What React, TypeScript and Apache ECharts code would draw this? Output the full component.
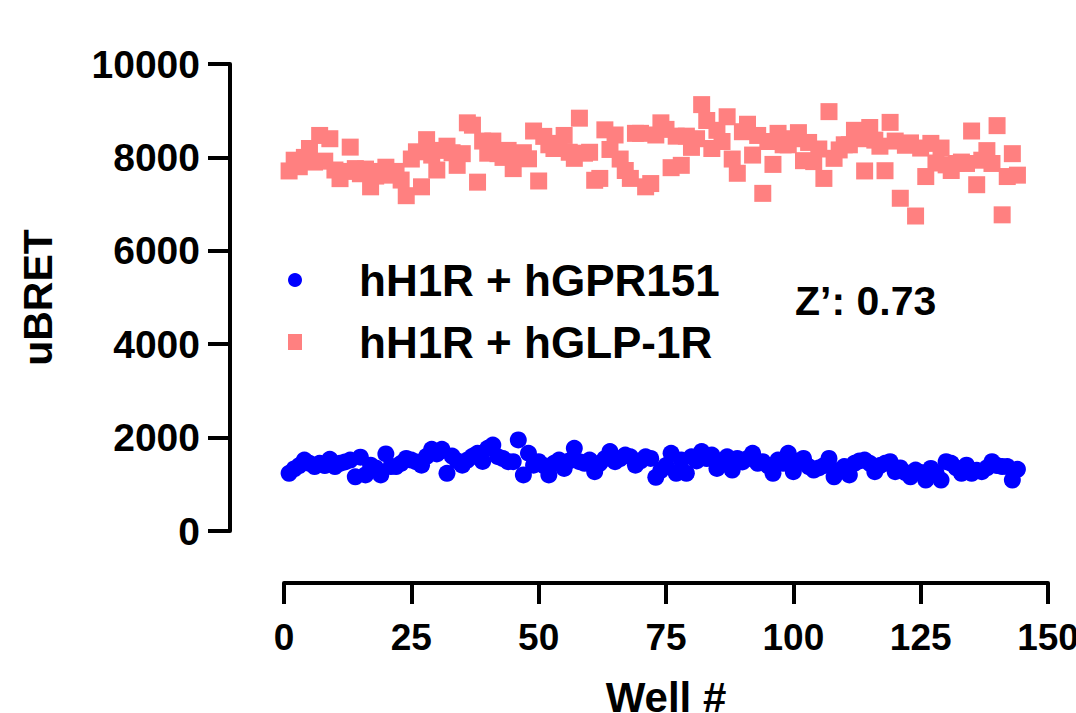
import React, { useEffect, useRef } from "react";
import * as echarts from "echarts";

const seriesNames = ["hH1R + hGPR151", "hH1R + hGLP-1R"];

// uBRET values, wells 1..144
const gpr151Values = [
  1235, 1330, 1400, 1520, 1450, 1380, 1450, 1400, 1535, 1380, 1450, 1480,
  1520, 1160, 1580, 1200, 1410, 1350, 1200, 1650, 1380, 1380, 1450, 1555,
  1520, 1480, 1410, 1600, 1750, 1650, 1750, 1235, 1605, 1500, 1410, 1520,
  1600, 1665, 1490, 1770, 1840, 1590, 1550, 1485, 1485, 1950, 1200, 1665,
  1410, 1485, 1400, 1200, 1450, 1520, 1340, 1500, 1770, 1485, 1450, 1520,
  1270, 1450, 1550, 1700, 1485, 1550, 1625, 1590, 1410, 1500, 1590, 1555,
  1150, 1300, 1400, 1665, 1235, 1520, 1235, 1590, 1500, 1700, 1550, 1625,
  1340, 1500, 1590, 1305, 1555, 1480, 1550, 1665, 1450, 1485, 1400, 1235,
  1520, 1450, 1665, 1270, 1500, 1555, 1380, 1305, 1350, 1400, 1555, 1160,
  1300, 1380, 1200, 1450, 1500, 1520, 1450, 1270, 1400, 1450, 1485, 1270,
  1350, 1250, 1160, 1305, 1250, 1090, 1340, 1250, 1090, 1485, 1450, 1350,
  1235, 1410, 1235, 1300, 1270, 1350, 1485, 1400, 1380, 1380, 1090, 1320,
];

const glp1rValues = [
  7710, 7940, 7800, 8000, 8190, 7900, 8470, 7920, 8400, 7730, 7545, 7700,
  8220, 7760, 7650, 7750, 7370, 7600, 7700, 7790, 7620, 7700, 7515, 7180,
  7965, 8120, 7370, 8380, 8050, 7730, 8150, 8240, 8100, 7830, 8080, 8740,
  8690, 7470, 8350, 8090, 8350, 8080, 8000, 8150, 7760, 8050, 8100, 7970,
  8565, 7495, 8450, 8270, 8190, 8300, 8470, 8110, 7980, 8840, 8090, 8110,
  7510, 7550, 8590, 8170, 8480, 7965, 7720, 7550, 8515, 8515, 7370, 7440,
  8480, 8740, 8600, 7780, 8455, 7830, 8455, 8215, 8400, 9130, 8790, 8190,
  8580, 8340, 8870, 7965, 7660, 8550, 8710, 8050, 8470, 7230, 8340, 7850,
  8515, 8270, 8270, 8400, 8530, 7930, 8320, 7910, 8180, 7550, 8980, 7980,
  8160, 8270, 8270, 8580, 8400, 7710, 8640, 8370, 8240, 7715, 8750, 8350,
  7125, 8260, 8310, 6745, 8200, 7590, 8300, 7880, 8200, 7840, 7720, 7870,
  7900, 7870, 8565, 7415, 7940, 8145, 7870, 8680, 6770, 7590, 8080, 7620,
];

const wells = gpr151Values.map((_, i) => i + 1);

const xTickValues = [0, 25, 50, 75, 100, 125, 150];
const yTickValues = [0, 2000, 4000, 6000, 8000, 10000];
const zPrimeLabel = "Z\u2019: 0.73";

export default function App() {
  const ref = useRef<HTMLDivElement>(null);

  useEffect(() => {
    if (!ref.current) return;
    const chart = echarts.init(ref.current, null, { renderer: "svg" });
    const axisColor = "#000000";
    chart.setOption({
      animation: false,
      backgroundColor: "#ffffff",
      grid: {
        left: 284,
        right: 28,
        top: 64,
        bottom: 182,
        containLabel: false,
        outerBoundsMode: "none",
      },
      legend: {
        orient: "vertical",
        left: 283,
        top: 253,
        itemWidth: 14,
        itemHeight: 16,
        itemGap: 18,
        data: [
          { name: seriesNames[0], icon: "circle" },
          { name: seriesNames[1], icon: "rect" },
        ],
        textStyle: {
          fontFamily: "Liberation Sans, Arial, sans-serif",
          fontWeight: "bold",
          fontSize: 44,
          color: "#000",
          padding: [0, 0, 0, 52],
        },
      },
      xAxis: {
        type: "value",
        min: xTickValues[0],
        max: xTickValues[xTickValues.length - 1],
        interval: 25,
        offset: 52,
        name: "Well #",
        nameLocation: "middle",
        nameGap: 93,
        nameTextStyle: {
          fontFamily: "Liberation Sans, Arial, sans-serif",
          fontWeight: "bold",
          fontSize: 42,
          color: "#000",
        },
        axisLine: { show: true, onZero: false, lineStyle: { color: axisColor, width: 4 } },
        axisTick: { show: true, length: 21, lineStyle: { color: axisColor, width: 4 } },
        axisLabel: {
          margin: 36,
          fontFamily: "Liberation Sans, Arial, sans-serif",
          fontWeight: "bold",
          fontSize: 37,
          color: "#000",
          hideOverlap: false,
          formatter: (v: number) => String(v),
        },
        splitLine: { show: false },
      },
      yAxis: {
        type: "value",
        min: yTickValues[0],
        max: yTickValues[yTickValues.length - 1],
        interval: 2000,
        offset: 54,
        name: "uBRET",
        nameLocation: "middle",
        nameGap: 172,
        nameTextStyle: {
          fontFamily: "Liberation Sans, Arial, sans-serif",
          fontWeight: "bold",
          fontSize: 41,
          color: "#000",
        },
        axisLine: { show: true, onZero: false, lineStyle: { color: axisColor, width: 4 } },
        axisTick: { show: true, length: 22, lineStyle: { color: axisColor, width: 4 } },
        axisLabel: {
          margin: 30,
          fontFamily: "Liberation Sans, Arial, sans-serif",
          fontWeight: "bold",
          fontSize: 39,
          color: "#000",
          formatter: (v: number) => String(v),
        },
        splitLine: { show: false },
      },
      series: [
        {
          name: seriesNames[0],
          type: "scatter",
          symbol: "circle",
          symbolSize: 17,
          itemStyle: { color: "#0000FF", opacity: 1 },
          data: wells.map((w, i) => [w, gpr151Values[i]]),
        },
        {
          name: seriesNames[1],
          type: "scatter",
          symbol: "rect",
          symbolSize: 17,
          itemStyle: { color: "#FF8080", opacity: 1 },
          data: wells.map((w, i) => [w, glp1rValues[i]]),
        },
      ],
      graphic: [
        {
          type: "text",
          left: 795,
          top: 280,
          style: {
            text: zPrimeLabel,
            font: "bold 41px 'Liberation Sans', Arial, sans-serif",
            fill: "#000",
          },
        },
      ],
    });
    return () => chart.dispose();
  }, []);

  return (
    <div
      ref={ref}
      style={{ position: "fixed", left: 0, top: 0, width: 1076, height: 713, background: "#fff" }}
    />
  );
}
